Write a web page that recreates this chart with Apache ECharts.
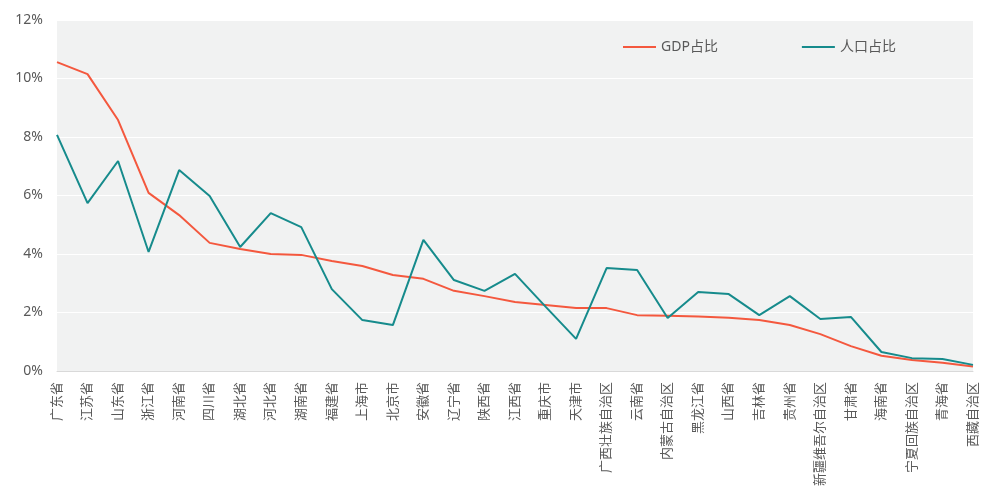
<!DOCTYPE html>
<html>
<head>
<meta charset="utf-8">
<script src="https://cdn.jsdelivr.net/npm/echarts@6/dist/echarts.min.js"></script>
<style>html,body{margin:0;padding:0;background:#fff;}#c{width:989px;height:503px;}</style>
</head>
<body>
<div id="c"></div>
<script>
const categories = ['广东省','江苏省','山东省','浙江省','河南省','四川省','湖北省','河北省','湖南省','福建省','上海市','北京市','安徽省','辽宁省','陕西省','江西省','重庆市','天津市','广西壮族自治区','云南省','内蒙古自治区','黑龙江省','山西省','吉林省','贵州省','新疆维吾尔自治区','甘肃省','海南省','宁夏回族自治区','青海省','西藏自治区'];
const gdpShare = [10.56,10.15,8.58,6.09,5.33,4.38,4.17,4.0,3.97,3.76,3.59,3.28,3.15,2.74,2.56,2.36,2.26,2.15,2.15,1.91,1.89,1.86,1.82,1.74,1.57,1.26,0.85,0.52,0.38,0.28,0.15];
const popShare = [8.07,5.74,7.18,4.07,6.87,5.98,4.24,5.40,4.92,2.80,1.74,1.57,4.48,3.11,2.74,3.32,2.20,1.10,3.52,3.45,1.81,2.70,2.63,1.91,2.56,1.78,1.85,0.65,0.44,0.41,0.21];
const seriesNames = ['GDP占比','人口占比'];
const yTicks = {min:0, max:12, interval:2};

const font = '"Noto Sans", "Noto Sans CJK SC", sans-serif';
const chart = echarts.init(document.getElementById('c'));
chart.setOption({
  animation:false,
  textStyle:{fontFamily:font},
  grid:{left:57,right:16,top:20,bottom:132,show:true,backgroundColor:'#f1f2f2',borderWidth:0,containLabel:false},
  legend:{
    left:618, top:35, icon:'rect', itemWidth:33, itemHeight:2, itemGap:84,
    textStyle:{fontSize:14,color:'#595959',fontFamily:font},
    data:seriesNames
  },
  xAxis:{
    type:'category', data:categories, boundaryGap:false,
    axisLine:{show:true,lineStyle:{color:'#d9d9d9',width:1}},
    axisTick:{show:false},
    axisLabel:{rotate:90,interval:0,margin:11,fontSize:13,color:'#595959',fontFamily:font},
    splitLine:{show:false}
  },
  yAxis:{
    type:'value', min:yTicks.min, max:yTicks.max, interval:yTicks.interval,
    axisLine:{show:false}, axisTick:{show:false},
    axisLabel:{formatter:'{value}%',fontSize:14,color:'#595959',margin:14,fontFamily:font},
    splitLine:{lineStyle:{color:'#ffffff',width:1}}
  },
  series:[
    {name:seriesNames[0],type:'line',data:gdpShare,symbol:'none',lineStyle:{color:'#f4583e',width:2},itemStyle:{color:'#f4583e'}},
    {name:seriesNames[1],type:'line',data:popShare,symbol:'none',lineStyle:{color:'#168b8c',width:2},itemStyle:{color:'#168b8c'}}
  ]
});
</script>
</body>
</html>
